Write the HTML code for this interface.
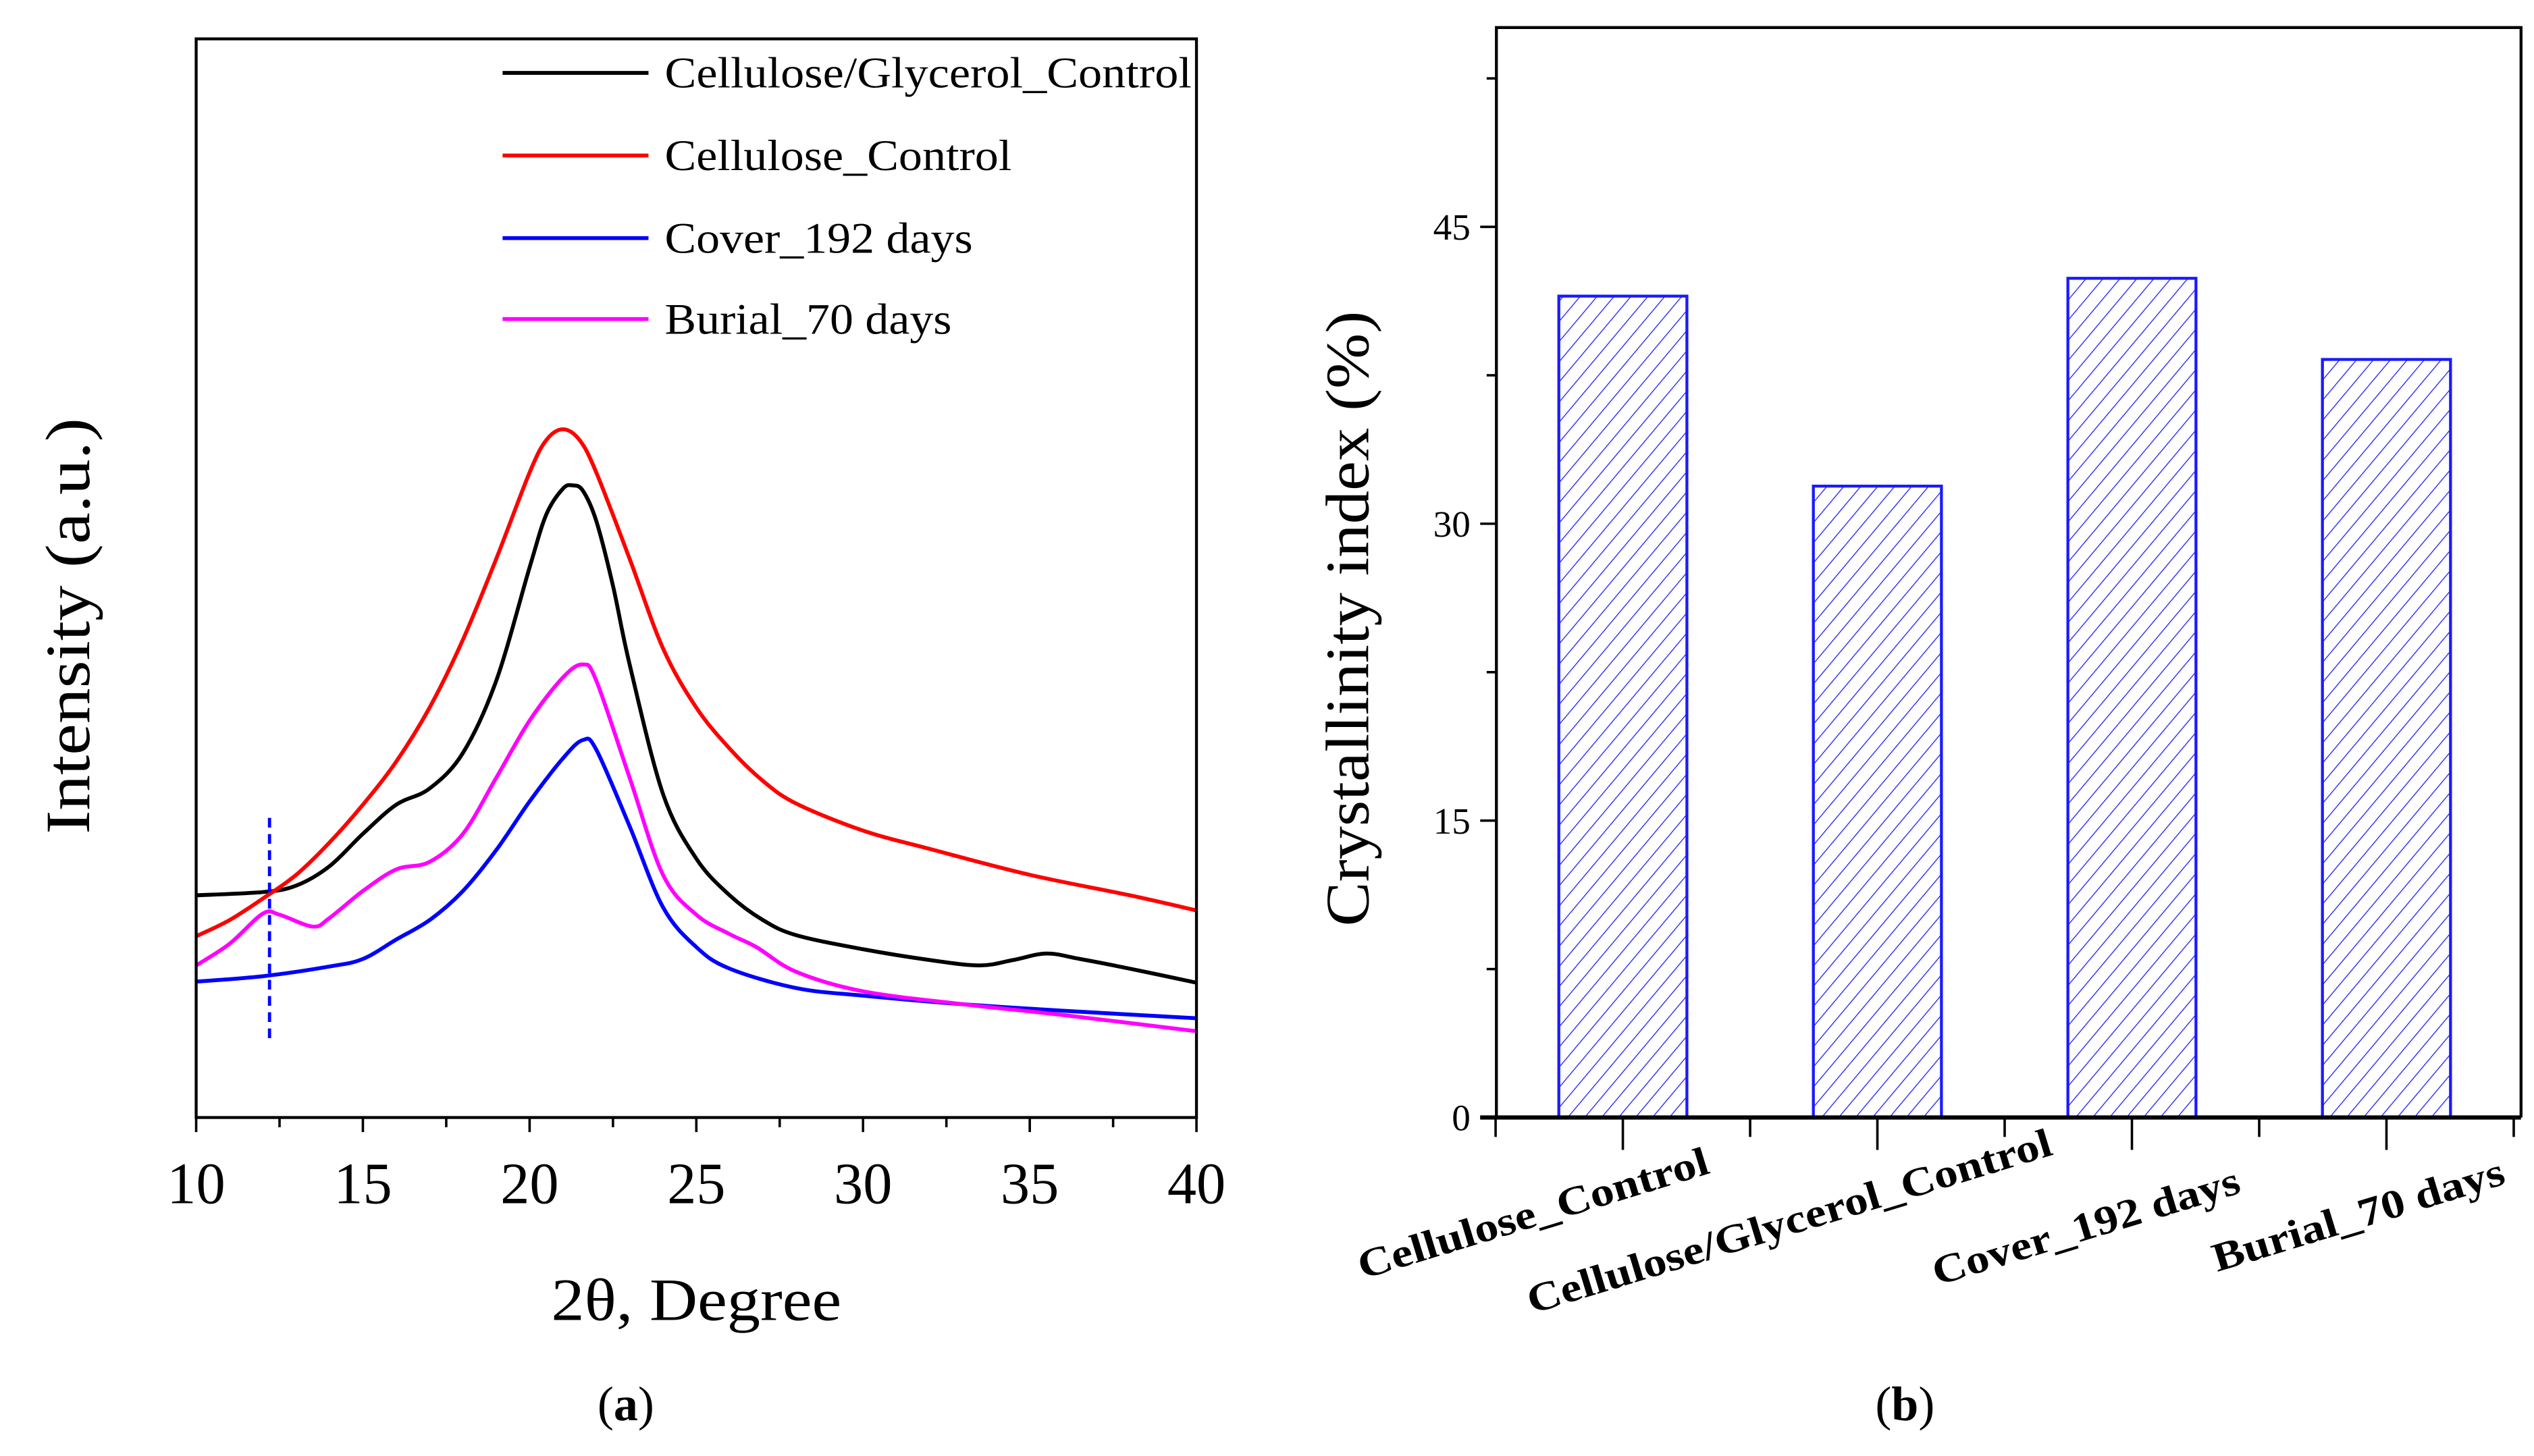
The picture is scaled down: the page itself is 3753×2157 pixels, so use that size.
<!DOCTYPE html>
<html><head><meta charset="utf-8"><style>
html,body{margin:0;padding:0;background:#fff;}
svg{display:block;}
text{font-family:"Liberation Serif",serif;}
</style></head><body>
<svg id="fig" width="3753" height="2157" viewBox="0 0 1563 899" preserveAspectRatio="none" xmlns="http://www.w3.org/2000/svg">
<defs>
<pattern id="hatch" patternUnits="userSpaceOnUse" width="8" height="8" patternTransform="rotate(40)">
<line x1="0" y1="0" x2="0" y2="8" stroke="#2020ff" stroke-width="1.1"/>
</pattern>
<clipPath id="clipA"><rect x="121" y="24" width="617" height="666"/></clipPath>
</defs>
<g id="panelA"></g>
<g id="panelB"></g>
</svg>
<script>
// ---------- Panel (a) data ----------
const xrdX_black=[10,12,13,14,15,16,17,18,19,20,20.5,21,21.3,21.6,22,22.5,23,24,25,26,27,28,30,32,33.5,34.5,35.5,36.5,38,40];
const xrdY_black=[20.6,20.9,21.5,23.3,26.3,29,30.5,33.8,40.5,51,55.9,58.3,58.6,58.1,55.3,49.3,42,30,24,20.6,18.3,16.9,15.6,14.6,14.1,14.6,15.2,14.7,13.8,12.5];
const xrdX_red=[10,11,12,13,14,15,16,17,18,19,20,20.5,21,21.5,22,23,24,25,26,27,28,30,32,35,38,40];
const xrdY_red=[16.8,18.3,20.3,22.5,25.5,29,33,38,44.3,51.8,59.8,62.8,63.8,62.8,59.8,51.8,43.5,38,34.2,31.2,29.1,26.6,24.9,22.5,20.6,19.2];
const xrdX_magenta=[10,11,12,12.5,13.5,14,15,16,17,18,19,20,21,21.6,22,23,24,25,26,26.8,28,30,33,36,40];
const xrdY_magenta=[14.1,16.1,18.9,18.8,17.7,18.5,21,23,23.7,26.3,31.5,36.8,40.8,42,40.5,31.5,22.5,18.8,17,15.8,13.5,11.7,10.5,9.5,8];
const xrdX_blue=[10,12,14,15,16,17,18,19,20,21,21.6,22,23,24,25,26,28,30,33,36,40];
const xrdY_blue=[12.6,13.1,14,14.7,16.5,18.3,21,24.8,29.3,33.3,35,34.1,27,19.5,15.8,13.8,12,11.3,10.5,9.9,9.2];
const xTicks=[10,15,20,25,30,35,40];
const dashX=12.2;
const legendLabels=["Cellulose/Glycerol_Control","Cellulose_Control","Cover_192 days","Burial_70 days"];
// ---------- Panel (b) data ----------
const categories=["Cellulose_Control","Cellulose/Glycerol_Control","Cover_192 days","Burial_70 days"];
const crystallinity=[41.5,31.9,42.4,38.3];
const yTicks=[0,15,30,45];

const NS="http://www.w3.org/2000/svg";
function mk(parent,tag,attrs,text){const e=document.createElementNS(NS,tag);for(const k in attrs)e.setAttribute(k,attrs[k]);if(text!==undefined)e.textContent=text;parent.appendChild(e);return e;}

// Panel A
const A=document.getElementById('panelA');
const ax={x0:121,x1:738,y0:690,y1:24,xmin:10,xmax:40,ymin:0,ymax:100};
const sx=v=>ax.x0+(v-ax.xmin)/(ax.xmax-ax.xmin)*(ax.x1-ax.x0);
const sy=v=>ax.y0-(v-ax.ymin)/(ax.ymax-ax.ymin)*(ax.y0-ax.y1);
function smooth(xs,ys){const p=xs.map((x,i)=>[sx(x),sy(ys[i])]);let d=`M${p[0][0]},${p[0][1]}`;
for(let i=0;i<p.length-1;i++){const p0=p[Math.max(0,i-1)],p1=p[i],p2=p[i+1],p3=p[Math.min(p.length-1,i+2)];
const c1=[p1[0]+(p2[0]-p0[0])/6,p1[1]+(p2[1]-p0[1])/6],c2=[p2[0]-(p3[0]-p1[0])/6,p2[1]-(p3[1]-p1[1])/6];
d+=` C${c1[0]},${c1[1]} ${c2[0]},${c2[1]} ${p2[0]},${p2[1]}`;}return d;}
const series=[[xrdX_black,xrdY_black,'#000','curve-cellulose-glycerol-control'],[xrdX_red,xrdY_red,'#ff0000','curve-cellulose-control'],[xrdX_blue,xrdY_blue,'#0000ff','curve-cover-192-days'],[xrdX_magenta,xrdY_magenta,'#ff00ff','curve-burial-70-days']];
const gC=mk(A,'g',{'clip-path':'url(#clipA)'});


series.forEach(s=>{const p=mk(gC,'path',{d:smooth(s[0],s[1]),fill:'none',stroke:s[2],'stroke-width':2.4});

});
const dl=mk(A,'line',{x1:sx(dashX),x2:sx(dashX),y1:505,y2:645,stroke:'#0000ff','stroke-width':2,'stroke-dasharray':'6,4'});


const fa=mk(A,'rect',{x:121,y:24,width:617,height:666,fill:'none',stroke:'#000','stroke-width':1.8});


for(let v=10;v<=40;v+=2.5){const major=v%5===0;const t=mk(A,'line',{x1:sx(v),x2:sx(v),y1:690,y2:690+(major?9:6),stroke:'#000','stroke-width':1.5});

}
xTicks.forEach(v=>{const t=mk(A,'text',{x:sx(v),y:743,'font-size':36,'text-anchor':'middle'},String(v));

});
const xt=mk(A,'text',{x:340,y:815,'font-size':37,textLength:179,lengthAdjust:'spacingAndGlyphs'},'2θ, Degree');


const yt=mk(A,'text',{x:0,y:0,'font-size':39,textLength:257,lengthAdjust:'spacingAndGlyphs',transform:'translate(55,515) rotate(-90)'},'Intensity (a.u.)');


const legCols=['#000','#ff0000','#0000ff','#ff00ff'];const legY=[45,96,147,197];const legLen=[325,214,190,177];
legendLabels.forEach((l,i)=>{const g=mk(A,'g',{});


mk(g,'line',{x1:310,x2:400,y1:legY[i],y2:legY[i],stroke:legCols[i],'stroke-width':2.4});
mk(g,'text',{x:410,y:legY[i]+9,'font-size':27,textLength:legLen[i],lengthAdjust:'spacingAndGlyphs'},l);});
const la=mk(A,'text',{x:386,y:877,'font-size':30,'text-anchor':'middle'},'');
la.innerHTML='(<tspan font-weight="bold">a</tspan>)';



// Panel B
const B=document.getElementById('panelB');
const bx={x0:923,x1:1555,y0:690,y1:17,ymax:55.07};
const by=v=>bx.y0-v/bx.ymax*(bx.y0-bx.y1);
const step=157,first=1001,bw=79;
const bc=i=>first+i*step;
crystallinity.forEach((v,i)=>{const r=mk(B,'rect',{x:bc(i)-bw/2,y:by(v),width:bw,height:by(0)-by(v),fill:'url(#hatch)',stroke:'#1a1aff','stroke-width':1.8});

});
const fb=mk(B,'path',{d:`M${bx.x0},${by(0)} V${bx.y1} H${bx.x1} V${by(0)}`,fill:'none',stroke:'#000','stroke-width':1.8});


const xa=mk(B,'line',{x1:bx.x0-10,x2:bx.x1,y1:by(0),y2:by(0),stroke:'#000','stroke-width':2.6});


for(let v=0;v<=52.5;v+=7.5){const major=v%15===0;const t=mk(B,'line',{x1:bx.x0-(major?10:6),x2:bx.x0,y1:by(v),y2:by(v),stroke:'#000','stroke-width':1.5});

}
yTicks.forEach(v=>{const t=mk(B,'text',{x:bx.x0-16,y:by(v)+8,'font-size':23,'text-anchor':'end','font-family':'Liberation Sans, sans-serif'},String(v));

});
for(let i=0;i<=categories.length;i++){const xm=bc(i)-step/2;const t=mk(B,'line',{x1:xm,x2:xm,y1:by(0),y2:by(0)+12,stroke:'#000','stroke-width':1.5});

}
const catLen=[225,337,197,187];
categories.forEach((c,i)=>{const t=mk(B,'line',{x1:bc(i),x2:bc(i),y1:by(0),y2:by(0)+20,stroke:'#000','stroke-width':1.5});


const offs=[-53,-52,-26,-15],ys=[757,762,765,758];
const tx=mk(B,'text',{x:-catLen[i]/2,y:0,'font-size':25,'font-weight':'bold',textLength:catLen[i],lengthAdjust:'spacingAndGlyphs',transform:`translate(${bc(i)+offs[i]},${ys[i]}) rotate(-17)`},c);

});
const ybt=mk(B,'text',{x:0,y:0,'font-size':38,textLength:380,lengthAdjust:'spacingAndGlyphs',transform:'translate(844,572) rotate(-90)'},'Crystallinity index (%)');


const lb=mk(B,'text',{x:1175,y:877,'font-size':30,'text-anchor':'middle'},'');
lb.innerHTML='(<tspan font-weight="bold">b</tspan>)';


</script>
</body></html>
